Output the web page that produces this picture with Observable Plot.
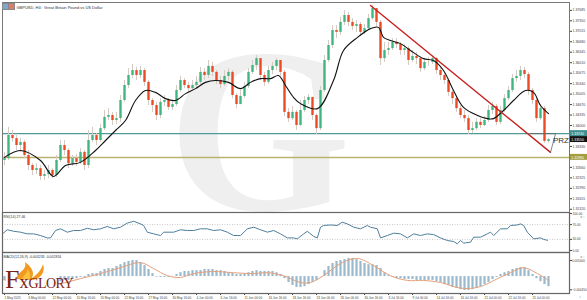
<!DOCTYPE html>
<html><head><meta charset="utf-8">
<script src="https://cdn.jsdelivr.net/npm/d3@7"></script>
<script src="https://cdn.jsdelivr.net/npm/@observablehq/plot@0.6"></script>
<style>
body{margin:0;background:#fff;}
#wrap{position:relative;width:587px;height:300px;overflow:hidden;background:#fff;font-family:"Liberation Sans",Arial,sans-serif;}
#wrap svg.plt{position:absolute;left:0;}
</style></head><body><div id="wrap"></div>
<script>
// ---- data (GBPUSD H4) ----
const firstOpen = 1.3288;
const closes = [
1.3294,1.3368,1.3358,1.3336,1.3346,1.3304,1.3272,1.3256,1.3262,1.3237,
1.3243,1.3256,1.3240,1.3288,1.3336,1.3320,1.3278,1.3294,1.3282,1.3314,
1.3272,1.3352,1.3368,1.3352,1.3390,1.3426,1.3432,1.3416,1.3422,1.3480,
1.3528,1.3560,1.3576,1.3560,1.3576,1.3538,1.3480,1.3464,1.3432,1.3474,
1.3480,1.3458,1.3467,1.3512,1.3544,1.3528,1.3518,1.3528,1.3538,1.3570,
1.3560,1.3589,1.3570,1.3544,1.3531,1.3557,1.3570,1.3496,1.3467,1.3493,
1.3525,1.3570,1.3592,1.3614,1.3560,1.3538,1.3576,1.3589,1.3608,1.3570,
1.3442,1.3422,1.3442,1.3400,1.3448,1.3480,1.3490,1.3432,1.3390,1.3512,
1.3608,1.3656,1.3704,1.3698,1.3730,1.3752,1.3730,1.3717,1.3723,1.3698,
1.3710,1.3742,1.3774,1.3730,1.3614,1.3640,1.3646,1.3666,1.3659,1.3640,
1.3646,1.3608,1.3621,1.3614,1.3582,1.3602,1.3602,1.3614,1.3576,1.3560,
1.3544,1.3506,1.3486,1.3454,1.3432,1.3422,1.3384,1.3390,1.3410,1.3400,
1.3416,1.3448,1.3461,1.3410,1.3448,1.3486,1.3512,1.3550,1.3557,1.3576,
1.3563,1.3512,1.3480,1.3422,1.3454,1.3349,1.3355];
const highs = [
1.3314,1.3394,1.3384,1.3368,1.3358,1.3352,1.3320,1.3278,1.3278,1.3272,
1.3256,1.3272,1.3262,1.3304,1.3352,1.3352,1.3326,1.3304,1.3307,1.3326,
1.3320,1.3384,1.3394,1.3374,1.3403,1.3448,1.3454,1.3442,1.3442,1.3496,
1.3544,1.3582,1.3595,1.3586,1.3589,1.3582,1.3544,1.3486,1.3474,1.3486,
1.3496,1.3486,1.3480,1.3528,1.3557,1.3550,1.3538,1.3544,1.3557,1.3586,
1.3582,1.3608,1.3602,1.3576,1.3557,1.3576,1.3582,1.3576,1.3502,1.3512,
1.3538,1.3582,1.3608,1.3624,1.3614,1.3570,1.3589,1.3602,1.3614,1.3602,
1.3576,1.3454,1.3461,1.3448,1.3480,1.3493,1.3499,1.3486,1.3438,1.3525,
1.3624,1.3672,1.3720,1.3720,1.3746,1.3768,1.3762,1.3742,1.3736,1.3730,
1.3723,1.3755,1.3784,1.3774,1.3736,1.3666,1.3666,1.3678,1.3678,1.3666,
1.3659,1.3653,1.3640,1.3634,1.3621,1.3614,1.3618,1.3621,1.3618,1.3582,
1.3570,1.3550,1.3512,1.3493,1.3464,1.3448,1.3432,1.3410,1.3422,1.3422,
1.3429,1.3464,1.3474,1.3467,1.3461,1.3499,1.3525,1.3563,1.3576,1.3589,
1.3586,1.3570,1.3518,1.3486,1.3467,1.3461,1.3358];
const lows = [
1.3272,1.3288,1.3346,1.3320,1.3314,1.3294,1.3256,1.3240,1.3243,1.3224,
1.3224,1.3230,1.3230,1.3234,1.3282,1.3304,1.3262,1.3269,1.3269,1.3275,
1.3256,1.3262,1.3346,1.3336,1.3346,1.3384,1.3416,1.3400,1.3403,1.3410,
1.3474,1.3518,1.3550,1.3544,1.3550,1.3525,1.3464,1.3442,1.3416,1.3422,
1.3461,1.3448,1.3448,1.3461,1.3506,1.3518,1.3506,1.3512,1.3518,1.3531,
1.3544,1.3550,1.3557,1.3531,1.3518,1.3525,1.3544,1.3486,1.3454,1.3467,
1.3486,1.3518,1.3563,1.3576,1.3544,1.3525,1.3531,1.3563,1.3576,1.3557,
1.3429,1.3410,1.3416,1.3384,1.3397,1.3442,1.3467,1.3416,1.3371,1.3384,
1.3506,1.3602,1.3646,1.3678,1.3688,1.3720,1.3717,1.3704,1.3698,1.3685,
1.3691,1.3704,1.3736,1.3717,1.3592,1.3602,1.3624,1.3640,1.3646,1.3624,
1.3624,1.3592,1.3602,1.3595,1.3570,1.3576,1.3589,1.3595,1.3563,1.3544,
1.3531,1.3493,1.3467,1.3442,1.3422,1.3410,1.3371,1.3374,1.3384,1.3390,
1.3397,1.3410,1.3435,1.3400,1.3403,1.3442,1.3480,1.3506,1.3538,1.3544,
1.3550,1.3496,1.3467,1.3410,1.3416,1.3343,1.3343];

// moving average, positions in bar index
const maIdx = [0,4,9,12.25,15.25,19,22.75,25.25,27.75,30.25,32.75,35.25,37.75,40.25,42.75,45.25,47.75,50.25,52.75,56,59,61.5,64,66.5,68.5,70.25,72.25,74,78.25,82.25,84.75,88.25,91.5,93.5,94.75,96.5,99,101.5,104.75,107.25,109.75,112.25,114.75,118.25,120.75,122.25,124.75,127.25,130.25,132.25,134,136];
const maVal = [1.3298,1.3320,1.3288,1.3237,1.3272,1.3282,1.3320,1.3352,1.3384,1.3416,1.3480,1.3512,1.3506,1.3486,1.3480,1.3502,1.3518,1.3538,1.3544,1.3538,1.3518,1.3538,1.3550,1.3550,1.3560,1.3528,1.3490,1.3470,1.3454,1.3544,1.3640,1.3682,1.3710,1.3714,1.3682,1.3672,1.3662,1.3640,1.3614,1.3608,1.3576,1.3512,1.3458,1.3432,1.3422,1.3422,1.3448,1.3480,1.3512,1.3506,1.3464,1.3438];

// trend line and levels
const trendIdx = [91.5, 136.5];
const trendVal = [1.3784, 1.3314];
const przIdx = [136.5, 137.75, 131.5];
const przVal = [1.3314, 1.3374, 1.3374];
const tealLevel = 1.3374;
const oliveLevel = 1.3298;
const priceTicks = [1.37685,1.37350,1.37015,1.36680,1.36345,1.36010,1.35675,1.35340,1.35005,1.34670,1.34335,1.34000,1.33665,1.33330,1.32995,1.32660,1.32325,1.31990,1.31655,1.31320];

// RSI(14)
const rsiIdx = [-0.5,0.7,2.3,4,5.7,7.3,9,10.7,11.5,12.75,14,15.7,17.3,19,20.7,22.3,24,25.7,27.3,29,30.7,32.3,34,34.8,35.7,37.3,39,39.8,42.3,44,45.7,47.3,49,50.7,52.3,54,55.7,57.3,59,60.7,62.3,64,65.7,67.3,69,70.7,72.3,73.2,74.8,75.7,77.3,78.2,79,79.8,81.5,83.2,84.4,85.7,87.3,89,90.7,91.5,93.2,94,95.7,97.3,99,100.7,102.3,104,105.7,107.3,109,110.7,112.3,113.2,114,114.8,116.5,117.3,119,120.7,121.5,122.3,124,125.7,126.5,128.2,129,129.8,130.7,132.3,134,134.8,135.75];
const rsiVal = [45,56,52,49.5,45,45,40.5,34,34,54,58.6,49.5,54,54,60,56,58.6,65,58.6,63,74,79,72,67.6,49.5,45,40.5,49.5,49.5,56,54,54,58.6,58.6,54,56,49.5,40.5,40.5,58.6,63,56,49.5,54,45,34,34,31.5,45,52,38,34,63,67.6,69,67.6,76.5,72,63,58.6,67.6,63,58.6,34,40.5,46.8,45,34,45,40.5,45,43,34,27,24.3,18,27,20,22.5,36,36,45,49.5,40.5,58.6,58.6,67.6,69,72,67.6,49.5,31.5,34,30,27.46];
const rsiTicks = [100, 70, 30, 0];

// MACD(12,26,9) histogram (one per bar) and signal
const macdHist = [
-0.0013,-0.0013,-0.0020,-0.0024,-0.0027,-0.0030,-0.0034,-0.0037,-0.0040,-0.0040,
-0.0040,-0.0037,-0.0034,-0.0027,-0.0017,-0.0013,-0.0013,-0.0010,-0.0007,-0.0003,
-0.0003,0.0007,0.0010,0.0010,0.0017,0.0024,0.0027,0.0027,0.0034,0.0040,
0.0047,0.0051,0.0054,0.0054,0.0047,0.0037,0.0024,0.0010,-0.0002,-0.0003,
-0.0003,-0.0003,0.0001,0.0007,0.0013,0.0017,0.0017,0.0020,0.0020,0.0020,
0.0024,0.0024,0.0024,0.0020,0.0020,0.0017,0.0013,0.0010,0.0007,0.0007,
0.0010,0.0013,0.0017,0.0020,0.0017,0.0017,0.0017,0.0017,0.0013,0.0007,
-0.0007,-0.0020,-0.0030,-0.0037,-0.0037,-0.0034,-0.0027,-0.0020,-0.0013,-0.0001,
0.0020,0.0034,0.0044,0.0051,0.0054,0.0057,0.0061,0.0061,0.0057,0.0051,
0.0044,0.0040,0.0040,0.0037,0.0027,0.0013,0.0003,-0.0003,-0.0007,-0.0007,
-0.0010,-0.0010,-0.0010,-0.0013,-0.0013,-0.0013,-0.0013,-0.0013,-0.0017,-0.0020,
-0.0027,-0.0030,-0.0037,-0.0040,-0.0044,-0.0047,-0.0047,-0.0044,-0.0040,-0.0034,
-0.0027,-0.0020,-0.0010,-0.0003,0.0007,0.0013,0.0017,0.0024,0.0027,0.0030,
0.0030,0.0020,0.0007,-0.0007,-0.0017,-0.0027,-0.0034];
const sigIdx = [-0.5,6.5,11,14,19,24,29,34,37.25,40.75,44,47.25,52.25,57.25,62.25,65.75,69.75,74,76.5,79.75,84,88.25,92.25,96.5,100.75,104.75,109,113.25,116.5,119.75,123.25,126.5,129.75,133.25,136];
const sigVal = [-0.0010,-0.0025,-0.0030,-0.0024,-0.0007,0.0010,0.0030,0.0047,0.0027,0.0003,-0.0003,0.0010,0.0017,0.0013,0.0010,0.0013,0.0003,-0.0020,-0.0020,0.0003,0.0044,0.0061,0.0037,0.0003,-0.0013,-0.0013,-0.0020,-0.0037,-0.0040,-0.0030,-0.0007,0.0013,0.0030,0.0010,-0.0013];
const macdTicks = [0.005400, -0.004450];
const macdTitle = "MACD(12,26,9) -0.003233 -0.002816";

// time axis
const dateLabels = ["1 May 2025","6 May 00:00","12 May 00:00","15 May 16:00","20 May 00:00","22 May 16:00","27 May 16:00","30 May 16:00","4 Jun 00:00","6 Jun 16:00","11 Jun 00:00","16 Jun 16:00","18 Jun 16:00","23 Jun 00:00","26 Jun 00:00","30 Jun 16:00","3 Jul 16:00","9 Jul 00:00","14 Jul 16:00","16 Jul 16:00","21 Jul 00:00","22 Jul 16:00","25 Jul 00:00"];
const dateIdx = [0,6,12,18,24,30,36,42,48,54,60,66,72,78,84,90,96,102,108,114,120,126,132];

// ---- build ----
const candles = closes.map((c, i) => ({i, open: i ? closes[i-1] : firstOpen, close: c, high: highs[i], low: lows[i]}));
const ma = maIdx.map((i, k) => ({i, v: maVal[k]}));
const trend = trendIdx.map((i, k) => ({i, v: trendVal[k]}));
const prz = przIdx.map((i, k) => ({i, v: przVal[k]}));
const rsi = rsiIdx.map((i, k) => ({i, v: rsiVal[k]}));
const hist = macdHist.map((v, i) => ({i, v}));
const sig = sigIdx.map((i, k) => ({i, v: sigVal[k]}));
const lastClose = closes[closes.length - 1];
const boxLevels = [tealLevel, lastClose, oliveLevel];
const boxColors = ["#3c8f8d", "#111111", "#a39d3e"];
const visibleTicks = priceTicks.filter(t => boxLevels.every(l => Math.abs(t - l) > 0.0012));

const W = 587;
const xDom = [-0.5, 141.25];
const common = {width: W, marginLeft: 2, marginRight: 18, style: {background: "transparent", overflow: "visible", fontFamily: "Liberation Sans, Arial, sans-serif"}};
const UP = "#3fb67f", DN = "#ec4a22", WICK = "#d3cbc4";
const AX = "#444";
const f5 = d3.format(".5f");
const wrap = document.getElementById("wrap");
function place(svg, top) { svg.classList.add("plt"); svg.style.top = top + "px"; wrap.appendChild(svg); }

// watermark (drawn first, behind everything)
const wm = document.createElement("div");
wm.style.cssText = "position:absolute;left:168px;top:-4px;font:bold 235px 'Liberation Serif',serif;color:#efefef;line-height:normal;";
wm.textContent = "G";
wrap.appendChild(wm);

const main = Plot.plot({
  ...common, height: 212, marginTop: 2, marginBottom: 0,
  x: {domain: xDom, axis: null},
  y: {domain: [1.31216, 1.37936], axis: null},
  marks: [
    Plot.ruleY([tealLevel], {stroke: "#4d9a98", strokeWidth: 1.2}),
    Plot.ruleY([oliveLevel], {stroke: "#b9b36e", strokeWidth: 1.5}),
    Plot.ruleX(candles, {x: "i", y1: "low", y2: "high", stroke: WICK, strokeWidth: 1}),
    Plot.ruleX(candles, {x: "i", y1: "open", y2: "close", stroke: d => d.close >= d.open ? UP : DN, strokeWidth: 2.4}),
    Plot.line(ma, {x: "i", y: "v", stroke: "#111", strokeWidth: 1.1, curve: "catmull-rom"}),
    Plot.line(trend, {x: "i", y: "v", stroke: "#c8201f", strokeWidth: 1.4}),
    Plot.line(prz, {x: "i", y: "v", stroke: "#666", strokeWidth: 0.8}),
    Plot.text(["PRZ"], {x: 137.1, y: 1.3352, text: d => d, fontSize: 8, textAnchor: "start", fill: "#333"}),
    Plot.axisY(visibleTicks, {anchor: "right", tickSize: 2, tickPadding: 1, fontSize: 3.5, tickFormat: f5, color: AX}),
    Plot.rect(boxLevels, {x1: 141.35, x2: 145.9, y1: d => d - 0.00095, y2: d => d + 0.00095, fill: (d, i) => boxColors[i]}),
    Plot.text(boxLevels, {x: 141.7, y: d => d, text: f5, fill: "white", fontSize: 3.5, textAnchor: "start"}),
    Plot.text(["GBPUSD, H4:  Great Britain Pound vs US Dollar"], {frameAnchor: "top-left", dx: 14, dy: 4, text: d => d, fontSize: 4, textAnchor: "start", fill: "#333"}),
    Plot.frame({stroke: "#777", strokeWidth: 1})
  ]
});
place(main, 0);

const rsiPlot = Plot.plot({
  ...common, height: 40, marginTop: 0, marginBottom: 0,
  x: {domain: xDom, axis: null},
  y: {domain: [-5.4, 102.7], axis: null},
  marks: [
    Plot.ruleY([70, 30], {stroke: "#b0b0b0", strokeWidth: 0.7, strokeDasharray: "1,1.5"}),
    Plot.line(rsi, {x: "i", y: "v", stroke: "#4f7f9e", strokeWidth: 1}),
    Plot.axisY(rsiTicks, {anchor: "right", tickSize: 2, tickPadding: 1, fontSize: 3.2, tickFormat: d3.format(".2f"), color: AX}),
    Plot.text([rsiVal[rsiVal.length-1]], {frameAnchor: "top-left", dx: 1, dy: 3, text: d => "RSI(14) " + d3.format(".2f")(d), fontSize: 3.5, textAnchor: "start", fill: "#333"}),
    Plot.frame({stroke: "#666", strokeWidth: 1.2})
  ]
});
place(rsiPlot, 212);

const macdPlot = Plot.plot({
  ...common, height: 48, marginTop: 0, marginBottom: 7,
  x: {domain: xDom},
  y: {domain: [-0.0057, 0.0081], axis: null},
  marks: [
    Plot.ruleX(hist, {x: "i", y1: 0, y2: "v", stroke: "#9ab9cc", strokeWidth: 2.2}),
    Plot.line(sig, {x: "i", y: "v", stroke: "#e5a07c", strokeWidth: 1, curve: "catmull-rom"}),
    Plot.axisY(macdTicks, {anchor: "right", tickSize: 2, tickPadding: 0.5, fontSize: 3.1, tickFormat: d3.format(".6f"), color: AX}),
    Plot.axisX(dateIdx, {anchor: "bottom", tickSize: 2, tickPadding: 1, fontSize: 3.1, textAnchor: "start", tickFormat: d => dateLabels[d / 6], color: AX}),
    Plot.text([macdTitle], {frameAnchor: "top-left", dx: 1, dy: 3, text: d => d, fontSize: 3.5, textAnchor: "start", fill: "#333"}),
    Plot.frame({stroke: "#666", strokeWidth: 1.2})
  ]
});
place(macdPlot, 252);

// icons next to title
for (const [l, c] of [[2, "#7fa6cf"], [8, "#e07a6a"]]) {
  const s = document.createElement("div");
  s.style.cssText = `position:absolute;left:${l}px;top:3px;width:5px;height:5px;border:0.5px solid #888;background:${c};`;
  wrap.appendChild(s);
}
// FxGlory logo
const bg = document.createElement("div");
bg.style.cssText = "position:absolute;left:6px;top:262px;width:52px;height:29px;background:rgba(255,255,255,0.92);";
wrap.appendChild(bg);
const flame = document.createElementNS("http://www.w3.org/2000/svg", "svg");
flame.setAttribute("width", "40"); flame.setAttribute("height", "20");
flame.style.cssText = "position:absolute;left:10px;top:260px;";
flame.innerHTML = '<path d="M6,19 C9,10 17,11 15,2 C23,8 25,14 21,19 C27,14 31,11 33,4 C36,12 30,19 23,20 Z" fill="#f29a1f"/><path d="M12,19 C14,14 18,14 17,9 C21,13 21,17 19,19 Z" fill="#f7c33a"/>';
wrap.appendChild(flame);
const logo = document.createElement("div");
logo.style.cssText = "position:absolute;left:5px;top:267px;font-family:'Liberation Serif',serif;color:#7b2314;line-height:1;white-space:nowrap;";
logo.innerHTML = '<span style="font-size:26px">F</span><span style="font-size:18px">x</span><span style="font-size:14px;letter-spacing:-0.6px">GLORY</span>';
wrap.appendChild(logo);
</script>
</body></html>
